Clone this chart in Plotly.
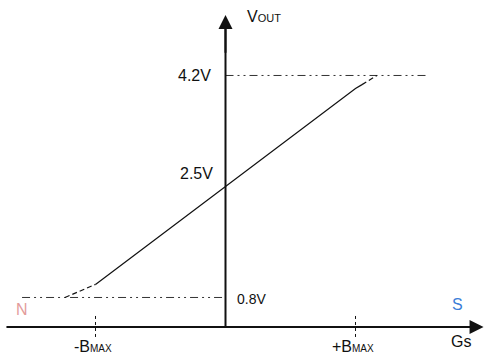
"""Linear Hall sensor transfer curve: VOUT vs. magnetic field."""

import plotly.graph_objects as go

FONT = "Liberation Sans, Arial, sans-serif"
INK = "#111111"

# field in units of BMAX, output in volts
B_LINEAR = [-1.0, 0.0, 1.0, 1.05]
V_LINEAR = [1.0, 2.5, 4.0, 4.06]
B_KNEE_LOW = [-1.235, -1.0]
V_KNEE_LOW = [0.8, 1.0]
B_KNEE_HIGH = [1.05, 1.165]
V_KNEE_HIGH = [4.06, 4.2]

V_HIGH = 4.2
V_MID = 2.5
V_LOW = 0.8
B_HIGH_REF = [0.0, 1.56]
B_LOW_REF = [-1.565, 0.0]
B_TICKS = [-1.0, 1.0]
TICK_LABELS = ["-B<span style='font-size:10px'>MAX</span>", "+B<span style='font-size:10px'>MAX</span>"]

# where the drawn axes sit (volts / BMAX units)
X_AXIS_V = 0.348
X_AXIS_START = -1.685
X_AXIS_END = 1.985
Y_AXIS_TOP = 5.126

X_RANGE = [-1.7346, 1.9885]
Y_RANGE = [-0.0965, 5.356]

dashdot = "8px,4px,2px,4px,2px,4px"

fig = go.Figure()

# reference levels
fig.add_trace(go.Scatter(x=B_HIGH_REF, y=[V_HIGH] * 2, mode="lines",
                         line=dict(color="#333333", width=1, dash=dashdot)))
fig.add_trace(go.Scatter(x=B_LOW_REF, y=[V_LOW] * 2, mode="lines",
                         line=dict(color="#333333", width=1, dash=dashdot)))

# transfer curve
fig.add_trace(go.Scatter(x=B_LINEAR, y=V_LINEAR, mode="lines",
                         line=dict(color=INK, width=1.2)))
for bx, vy in ((B_KNEE_LOW, V_KNEE_LOW), (B_KNEE_HIGH, V_KNEE_HIGH)):
    fig.add_trace(go.Scatter(x=bx, y=vy, mode="lines",
                             line=dict(color=INK, width=1.2, dash="5px,3px")))

# +/- BMAX ticks
for b in B_TICKS:
    fig.add_trace(go.Scatter(x=[b, b], y=[0.195, 0.531], mode="lines",
                             line=dict(color=INK, width=1, dash="dot")))

# x axis line
fig.add_trace(go.Scatter(x=[X_AXIS_START, X_AXIS_END - 0.1], y=[X_AXIS_V] * 2, mode="lines",
                         line=dict(color=INK, width=2)))
# y axis line
fig.add_trace(go.Scatter(x=[0, 0], y=[X_AXIS_V, Y_AXIS_TOP - 0.2], mode="lines",
                         line=dict(color=INK, width=2)))

# arrowheads
fig.add_annotation(x=X_AXIS_END, y=X_AXIS_V, ax=X_AXIS_END - 0.3, ay=X_AXIS_V,
                   axref="x", ayref="y", text="", showarrow=True,
                   arrowhead=2, arrowsize=1.4, arrowwidth=2, arrowcolor=INK)
fig.add_annotation(x=0, y=Y_AXIS_TOP, ax=0, ay=Y_AXIS_TOP - 0.6,
                   axref="x", ayref="y", text="", showarrow=True,
                   arrowhead=2, arrowsize=1.4, arrowwidth=2, arrowcolor=INK)

txt = dict(showarrow=False, font=dict(family=FONT, size=16, color=INK))

fig.add_annotation(x=0.15, y=5.096, xanchor="left", yanchor="middle",
                   text="V<span style='font-size:11px'>OUT</span>", **txt)
fig.add_annotation(x=-0.1, y=V_HIGH, xanchor="right", yanchor="middle",
                   text=f"{V_HIGH}V", **txt)
fig.add_annotation(x=-0.08, y=2.706, xanchor="right", yanchor="middle",
                   text=f"{V_MID}V", **txt)
fig.add_annotation(x=0.07, y=V_LOW - 0.02, xanchor="left", yanchor="middle",
                   text=f"{V_LOW}V", showarrow=False, font=dict(family=FONT, size=14, color=INK))

for b, lab in zip(B_TICKS, TICK_LABELS):
    fig.add_annotation(x=b - 0.02, y=0.05, xanchor="center", yanchor="middle",
                       text=lab, **txt)

fig.add_annotation(x=1.81, y=0.13, xanchor="center", yanchor="middle", text="Gs", **txt)
fig.add_annotation(x=-1.562, y=0.623, xanchor="center", yanchor="middle", text="N",
                   showarrow=False, font=dict(family=FONT, size=16, color="#E39B9B"))
fig.add_annotation(x=1.781, y=0.692, xanchor="center", yanchor="middle", text="S",
                   showarrow=False, font=dict(family=FONT, size=16, color="#3B7DD8"))

fig.update_layout(
    width=484, height=356,
    margin=dict(l=0, r=0, t=0, b=0),
    paper_bgcolor="white", plot_bgcolor="white",
    showlegend=False,
    xaxis=dict(range=X_RANGE, visible=False, fixedrange=True),
    yaxis=dict(range=Y_RANGE, visible=False, fixedrange=True),
)

# the page's default body margin would push the fixed-size figure off the window
fig.write_html("out.html", config={"displayModeBar": False},
               post_script="document.body.style.margin='0';")
